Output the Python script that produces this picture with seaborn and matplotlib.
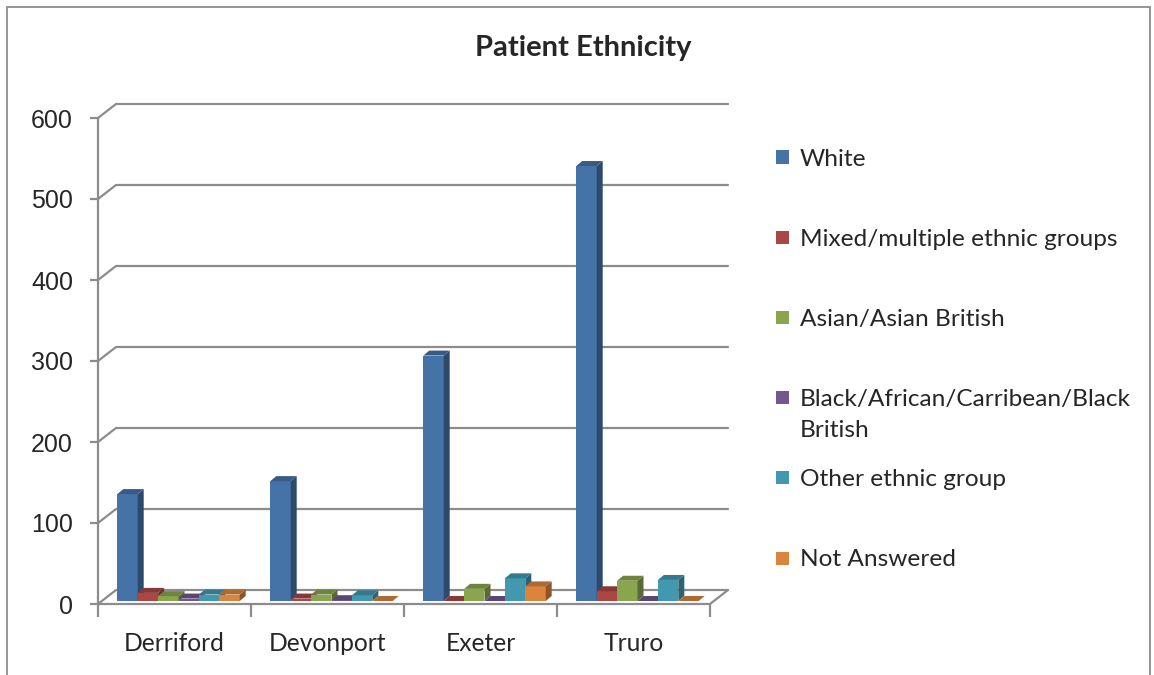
import pandas as pd
import matplotlib.pyplot as plt
import matplotlib
import seaborn as sns
import numpy as np
from matplotlib.patches import Polygon, Rectangle
from matplotlib.transforms import offset_copy
from matplotlib.colors import to_rgb

sites = ["Derriford", "Devonport", "Exeter", "Truro"]
groups = ["White", "Mixed/multiple ethnic groups", "Asian/Asian British",
          "Black/African/Carribean/Black British", "Other ethnic group", "Not Answered"]
legend_labels = ["White", "Mixed/multiple ethnic groups", "Asian/Asian British",
                 "Black/African/Carribean/Black\nBritish", "Other ethnic group", "Not Answered"]
white = [132, 148, 303, 537]
mixed = [10, 3, 0, 12]
asian = [6, 8, 15, 25]
black = [3, 1, 0, 0]
other = [8, 7, 28, 26]
not_answered = [8, 0, 18, 0]
y_ticks = [0, 100, 200, 300, 400, 500, 600]

colours = ["#4572A7", "#AA4643", "#89A54E", "#71588F", "#4198AF", "#DB843D"]
grey = "#8C8C8C"

sns.set_style("white")
plt.rcParams["font.family"] = ["Lato", "DejaVu Sans"]

rows = []
for g, vals in zip(groups, [white, mixed, asian, black, other, not_answered]):
    for s, v in zip(sites, vals):
        rows.append({"site": s, "group": g, "count": v})
df = pd.DataFrame(rows)

W, H = 1154, 675
fig = plt.figure(figsize=(W / 100, H / 100), dpi=100)
ax = fig.add_axes([98 / W, (H - 604) / H, 612 / W, 486 / H])

sns.barplot(data=df, x="site", y="count", hue="group", order=sites, hue_order=groups,
            palette=colours, saturation=1, width=0.8, legend=False, ax=ax,
            linewidth=0, zorder=3)
ax.set_xlim(-0.5, 3.5)
ax.set_ylim(0, 600)
for s in ax.spines.values():
    s.set_visible(False)

# pixel -> data conversion
sx = 612 / 4.0
sy = 486 / 600.0

# back wall gridlines (3d look)
bdx, bdy = 18 / sx, 14 / sy
for v in y_ticks:
    ax.plot([-0.5, -0.5 + bdx, 3.5 + bdx], [v, v + bdy, v + bdy], color=grey,
            lw=1.6, clip_on=False, zorder=1, solid_joinstyle="miter")
ax.plot([-0.5, 3.5, 3.5 + bdx], [0, 0, bdy], color=grey, lw=1.6, clip_on=False, zorder=2)
ax.plot([-0.5, -0.5], [0, 600], color=grey, lw=1.6, clip_on=False, zorder=2)

# 3d faces for bars
tr = offset_copy(ax.transData, fig=fig, x=4, y=3, units="dots")
ddx, ddy = 6 / sx, 5 / sy
bars = sorted(ax.patches, key=lambda p: p.get_x())
for i, p in enumerate(bars):
    x, w, h = p.get_x(), p.get_width(), p.get_height()
    c = np.array(to_rgb(p.get_facecolor()))
    z = 3 + i * 0.01
    p.set_transform(tr)
    p.set_zorder(z)
    side = Polygon([(x + w, 0), (x + w + ddx, ddy), (x + w + ddx, h + ddy), (x + w, h)],
                   closed=True, facecolor=c * 0.65, edgecolor="none", transform=tr, zorder=z)
    top = Polygon([(x, h), (x + ddx, h + ddy), (x + w + ddx, h + ddy), (x + w, h)],
                  closed=True, facecolor=c * 0.8, edgecolor="none", transform=tr, zorder=z)
    ax.add_patch(side)
    ax.add_patch(top)

ax.set_yticks(y_ticks)
ax.set_yticklabels([str(v) for v in y_ticks], fontfamily="Liberation Sans", fontsize=18)
ax.tick_params(axis="y", left=True, length=6, width=1.6, color=grey, pad=12)
ax.set_xticks(range(len(sites)))
ax.set_xticklabels(sites, fontsize=17.7)
ax.set_xticks([-0.5, 0.5, 1.5, 2.5, 3.5], minor=True)
ax.tick_params(axis="x", which="major", length=0, pad=20)
ax.tick_params(axis="x", which="minor", bottom=True, length=9, width=1.6, color=grey)
ax.set_xlabel("")
ax.set_ylabel("")
ax.grid(False)

fig.text(583 / W, 1 - 48 / H, "Patient Ethnicity", ha="center", va="center",
         fontsize=21, fontweight="bold")

# legend, laid out like the Excel one (entries 80 px apart, key on first line)
for i, (lab, c) in enumerate(zip(legend_labels, colours)):
    yc = 1 - (157 + 80.2 * i) / H
    fig.patches.append(Rectangle((776 / W, yc - 6.5 / H), 13 / W, 13 / H,
                                 transform=fig.transFigure, facecolor=c, edgecolor="none"))
    fig.text(800 / W, yc + 8.5 / H, lab, ha="left", va="top", fontsize=17.6,
             linespacing=1.6)

fig.patches.append(Rectangle((7 / W, -0.02), (1150 - 7) / W, (H - 7) / H + 0.02,
                             transform=fig.transFigure, fill=False, edgecolor=grey, lw=1.3))

fig.savefig("out.png", dpi=100)
